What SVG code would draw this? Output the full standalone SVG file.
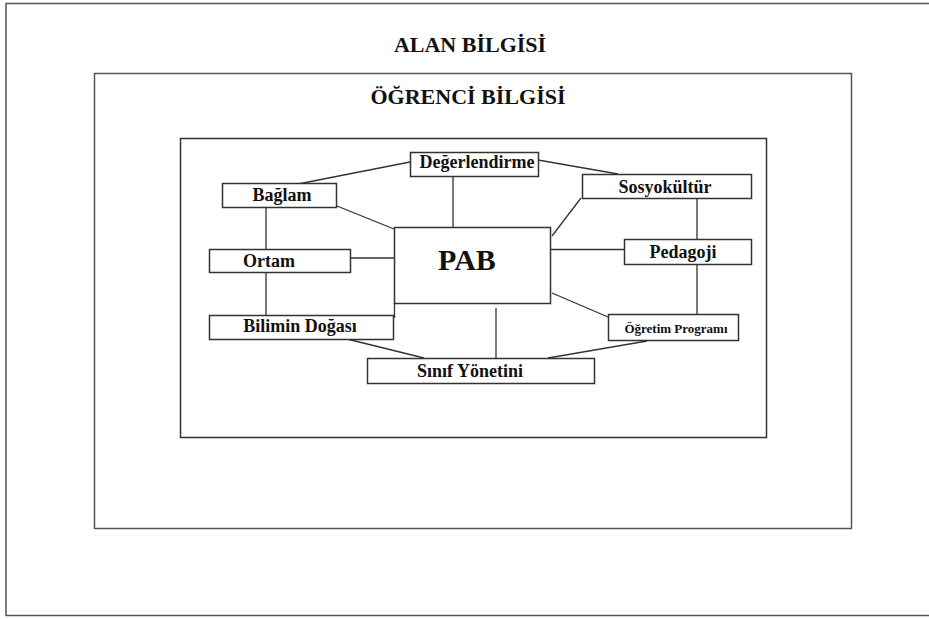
<svg xmlns="http://www.w3.org/2000/svg" width="929" height="619" viewBox="0 0 929 619">
<style>
.frame{fill:none;stroke:#555;stroke-width:1.5}
.box{fill:#fff;stroke:#333;stroke-width:1.5}
.con line{stroke:#333;stroke-width:1.3}
text{font-family:'Liberation Serif','Times New Roman','DejaVu Serif',serif;font-weight:bold;fill:#111;text-anchor:middle}
.t{font-size:18px}
.s{font-size:13px}
.h{font-size:22px}
</style>
<rect x="0" y="0" width="929" height="619" fill="#fff"/>
<g id="alan-bilgisi">
<rect class="frame" x="6" y="3.5" width="935" height="612"/>
<text class="h" x="470" y="52">ALAN BİLGİSİ</text>
</g>
<g id="ogrenci-bilgisi">
<rect class="frame" x="94.5" y="73.5" width="757" height="455"/>
<text class="h" x="468" y="104">ÖĞRENCİ BİLGİSİ</text>
</g>
<g id="inner-frame">
<rect class="box" x="180.5" y="138.5" width="586" height="299"/>
</g>
<g id="connectors" class="con">
<line x1="298" y1="184" x2="410" y2="162"/>
<line x1="538" y1="160" x2="618" y2="174"/>
<line x1="453" y1="177" x2="453" y2="228"/>
<line x1="581" y1="198" x2="552" y2="236"/>
<line x1="697" y1="199" x2="697" y2="239"/>
<line x1="551" y1="249.5" x2="624" y2="249.5"/>
<line x1="337" y1="206" x2="394" y2="229"/>
<line x1="266" y1="207" x2="266" y2="249"/>
<line x1="351" y1="258" x2="394" y2="258"/>
<line x1="266" y1="273" x2="266" y2="315"/>
<line x1="394.5" y1="303" x2="394.5" y2="318"/>
<line x1="496" y1="308" x2="496" y2="358"/>
<line x1="552" y1="293" x2="608" y2="317"/>
<line x1="697" y1="265" x2="697" y2="314"/>
<line x1="347" y1="339" x2="424" y2="358"/>
<line x1="647" y1="341" x2="548" y2="358"/>
</g>
<g id="degerlendirme">
<rect class="box" x="410.5" y="152.5" width="128" height="24"/>
<text class="t" x="477" y="168">Değerlendirme</text>
</g>
<g id="baglam">
<rect class="box" x="222.5" y="183.5" width="114" height="24"/>
<text class="t" x="282" y="201">Bağlam</text>
</g>
<g id="sosyokultur">
<rect class="box" x="582.5" y="174.5" width="169" height="24"/>
<text class="t" x="665" y="193">Sosyokültür</text>
</g>
<g id="pab">
<rect class="box" x="394.5" y="227.5" width="156" height="76"/>
<text x="467" y="270" style="font-size:30px">PAB</text>
</g>
<g id="pedagoji">
<rect class="box" x="624.5" y="239.5" width="127" height="25"/>
<text class="t" x="683" y="258">Pedagoji</text>
</g>
<g id="ortam">
<rect class="box" x="209.5" y="249.5" width="141" height="23"/>
<text class="t" x="269" y="267">Ortam</text>
</g>
<g id="bilimin-dogasi">
<rect class="box" x="209.5" y="315.5" width="184" height="24"/>
<text class="t" x="300" y="332">Bilimin Doğası</text>
</g>
<g id="ogretim-programi">
<rect class="box" x="608.5" y="314.5" width="130" height="26"/>
<text class="s" x="676" y="333">Öğretim Programı</text>
</g>
<g id="sinif-yonetini">
<rect class="box" x="367.5" y="358.5" width="227" height="25"/>
<text class="t" x="470" y="377">Sınıf Yönetini</text>
</g>
</svg>
